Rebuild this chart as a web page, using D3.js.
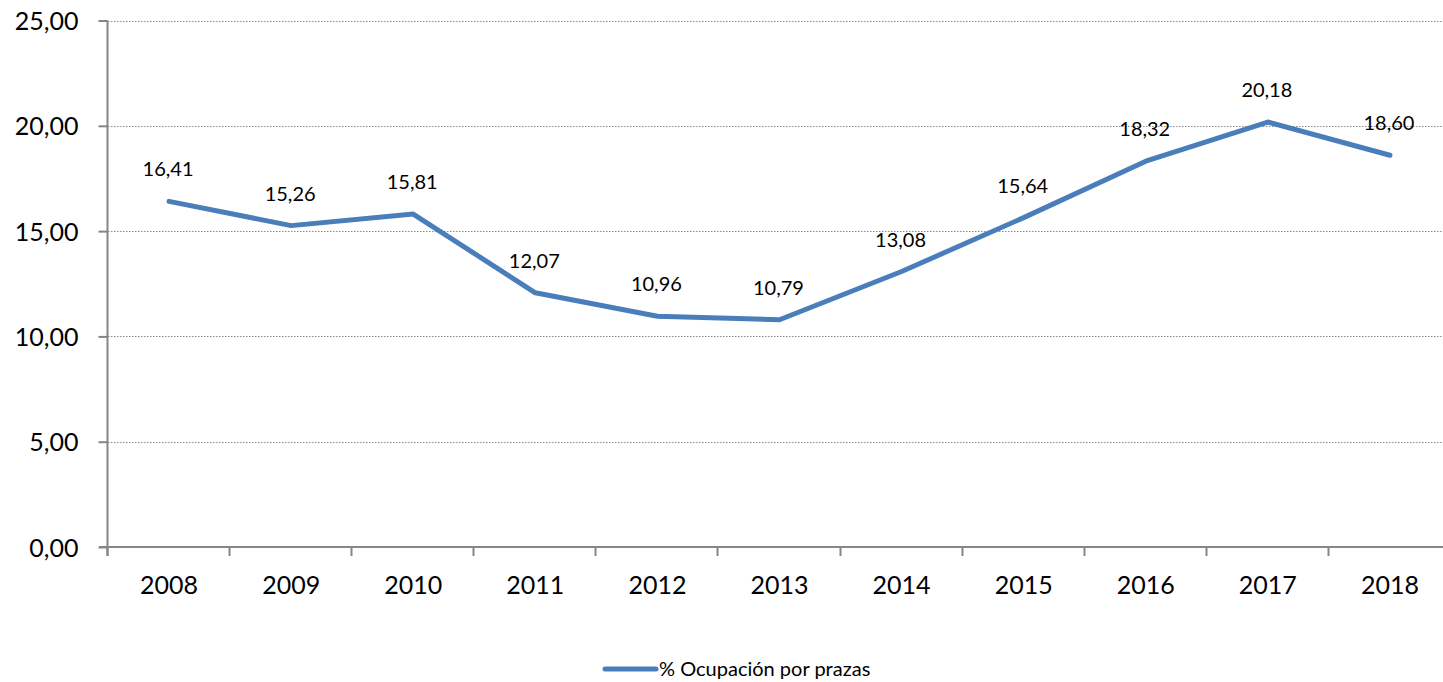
<!DOCTYPE html>
<html>
<head>
<meta charset="utf-8">
<script src="https://cdn.jsdelivr.net/npm/d3@7"></script>
<style>
  html, body { margin: 0; padding: 0; background: #fff; }
  svg { display: block; font-family: Lato, "Open Sans", sans-serif; }
</style>
</head>
<body>
<svg id="canvas" width="1443" height="682"></svg>
<script>
'use strict';

/* chart data */
const years = ['2008', '2009', '2010', '2011', '2012', '2013', '2014', '2015', '2016', '2017', '2018'];
const occupancy = [16.41, 15.26, 15.81, 12.07, 10.96, 10.79, 13.08, 15.64, 18.32, 20.18, 18.60];
const yTicks = [0, 5, 10, 15, 20, 25];
const seriesName = '% Ocupación por prazas';

const lineColor = '#4a7ebb';
const axisColor = '#868686';

/* plot area in pixels; the right edge runs past the window like in the original */
const plot = {left: 108, right: 1451, top: 20.5, bottom: 547};

const svg = d3.select('svg#canvas');
const fmt = v => d3.format('.2f')(v).replace('.', ',');

let x = d3.scaleBand()
  .domain(years)
  .range([plot.left, plot.right]);

let y = d3.scaleLinear()
  .domain([0, 25])
  .range([plot.bottom, plot.top]);

/* dotted horizontal gridlines */
svg.append('g')
  .attr('id', 'grid')
  .selectAll('line')
  .data(yTicks.filter(d => d > 0))
  .enter().append('line')
    .attr('x1', plot.left)
    .attr('x2', plot.right)
    .attr('y1', d => Math.round(y(d)) + 0.5)
    .attr('y2', d => Math.round(y(d)) + 0.5)
    .attr('stroke', '#8c8c8c')
    .attr('stroke-width', 1.2)
    .attr('stroke-dasharray', '1.5,1.5');

/* left axis */
let yAxis = d3.axisLeft(y)
  .tickValues(yTicks)
  .tickSize(9)
  .tickPadding(20)
  .tickFormat(fmt);

let gy = svg.append('g')
  .attr('id', 'left-axis')
  .attr('transform', 'translate(' + (plot.left - 0.5) + ',0)')
  .call(yAxis);
gy.select('.domain').remove();
gy.append('line')
  .attr('y1', plot.top)
  .attr('y2', plot.bottom + 9)
  .attr('stroke', axisColor)
  .attr('stroke-width', 2);
gy.selectAll('.tick line').attr('stroke', axisColor).attr('stroke-width', 2);
gy.selectAll('.tick text')
  .attr('fill', '#000')
  .attr('font-size', 25)
  .attr('dy', '0.36em')
  .attr('font-family', 'Lato, sans-serif');

/* bottom axis: ticks sit on the band boundaries */
let gx = svg.append('g')
  .attr('id', 'bottom-axis')
  .attr('transform', 'translate(0,' + plot.bottom + ')');
gx.append('line')
  .attr('x1', plot.left - 9)
  .attr('x2', plot.right)
  .attr('stroke', axisColor)
  .attr('stroke-width', 2);
gx.selectAll('line.tick')
  .data(years)
  .enter().append('line')
    .attr('class', 'tick')
    .attr('x1', d => Math.round(x(d)) - 0.5)
    .attr('x2', d => Math.round(x(d)) - 0.5)
    .attr('y1', 0)
    .attr('y2', 9)
    .attr('stroke', axisColor)
    .attr('stroke-width', 2);
gx.selectAll('text')
  .data(years)
  .enter().append('text')
    .attr('x', d => x(d) + x.bandwidth() / 2)
    .attr('y', 47)
    .attr('text-anchor', 'middle')
    .attr('font-size', 25)
    .attr('fill', '#000')
    .text(d => d);

/* the series line */
const pts = years.map((yr, i) => ({year: yr, value: occupancy[i]}));
const line = d3.line()
  .x(d => x(d.year) + x.bandwidth() / 2)
  .y(d => y(d.value));

svg.append('path')
  .datum(pts)
  .attr('fill', 'none')
  .attr('stroke', lineColor)
  .attr('stroke-width', 5)
  .attr('stroke-linejoin', 'round')
  .attr('stroke-linecap', 'round')
  .attr('d', line);

/* value labels above each point */
svg.append('g')
  .attr('id', 'labels')
  .selectAll('text')
  .data(pts)
  .enter().append('text')
    .attr('x', d => x(d.year) + x.bandwidth() / 2 - 1)
    .attr('y', d => y(d.value) - 25)
    .attr('text-anchor', 'middle')
    .attr('font-size', 20)
    .attr('fill', '#000')
    .text(d => fmt(d.value));

/* legend */
let legend = svg.append('g').attr('id', 'legend');
legend.append('line')
  .attr('x1', 605).attr('x2', 656)
  .attr('y1', 669).attr('y2', 669)
  .attr('stroke', lineColor)
  .attr('stroke-width', 5)
  .attr('stroke-linecap', 'round');
legend.append('text')
  .attr('x', 659)
  .attr('y', 676)
  .attr('font-size', 20)
  .attr('fill', '#000')
  .text(seriesName);
</script>
</body>
</html>
